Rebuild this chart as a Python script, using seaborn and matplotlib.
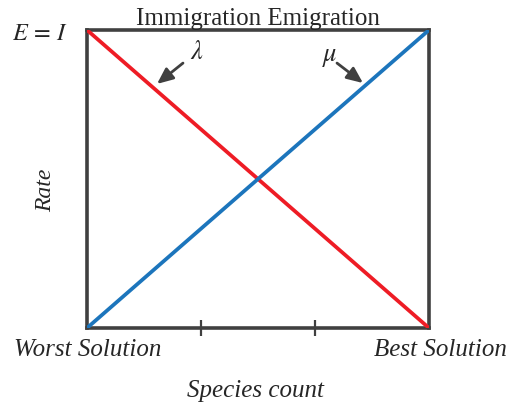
import matplotlib
matplotlib.use("Agg")
import matplotlib.pyplot as plt
import matplotlib.transforms as mtransforms
import seaborn as sns
import pandas as pd

species = [0, 3]
immigration = [1, 0]
emigration = [0, 1]
mid_ticks = [1, 2]
end_labels = ["Worst Solution", "Best Solution"]

sns.set_theme(style="white")
plt.rcParams["font.family"] = ["Liberation Serif", "DejaVu Serif"]
plt.rcParams["mathtext.fontset"] = "stix"

df = pd.DataFrame({"x": species * 2,
                   "y": immigration + emigration,
                   "s": ["Immigration"] * 2 + ["Emigration"] * 2})

fig = plt.figure(figsize=(5.07, 4.03), dpi=100)
ax = fig.add_axes([87/507, 1-328/403, 342/507, 298/403])
sns.lineplot(data=df, x="x", y="y", hue="s",
             palette={"Immigration": "#ee1c25", "Emigration": "#1c75bc"},
             linewidth=2.7, legend=False, ax=ax)
ax.set_xlim(0, 3)
ax.set_ylim(0, 1)
for sp in ax.spines.values():
    sp.set_color("#404040")
    sp.set_linewidth(2.6)
    sp.set_zorder(1)

ax.set_xticks([])
ax.set_xticks(mid_ticks, minor=True)
ax.tick_params(axis="x", which="minor", direction="inout", length=11, width=1.6,
               color="#404040", bottom=True)
ax.set_yticks([])
ax.set_xlabel("")
ax.set_ylabel("")

blend = mtransforms.blended_transform_factory(ax.transData, ax.transAxes)
ax.text(species[0] + 0.005, -0.075, end_labels[0], transform=blend,
        fontstyle="italic", fontsize=18, ha="center", va="center")
ax.text(species[1] + 0.096, -0.075, end_labels[1], transform=blend,
        fontstyle="italic", fontsize=18, ha="center", va="center")

ax.text(0.493, -0.212, "Species count", transform=ax.transAxes,
        fontstyle="italic", fontsize=18, ha="center", va="center")
ax.text(-0.12, 0.463, "Rate", transform=ax.transAxes, rotation=90,
        fontstyle="italic", fontsize=17, ha="center", va="center")

ax.set_title("Immigration Emigration", fontsize=18, pad=0)
ax.text(-0.167, 0.985, r"$E\,=\,I$", fontsize=17.5, ha="right", va="center")

arrow = dict(arrowstyle="-|>,head_length=0.8,head_width=0.35",
             color="#404040", lw=2.0, shrinkA=0, shrinkB=0)
ax.annotate("", xy=(0.614, 0.819), xytext=(0.842, 0.889), arrowprops=arrow)
ax.text(0.96, 0.925, r"$\lambda$", fontsize=19, ha="center", va="center")
ax.annotate("", xy=(2.421, 0.822), xytext=(2.193, 0.889), arrowprops=arrow)
ax.text(2.13, 0.905, r"$\mu$", fontsize=19, ha="center", va="center")

fig.savefig("out.png", dpi=100)
